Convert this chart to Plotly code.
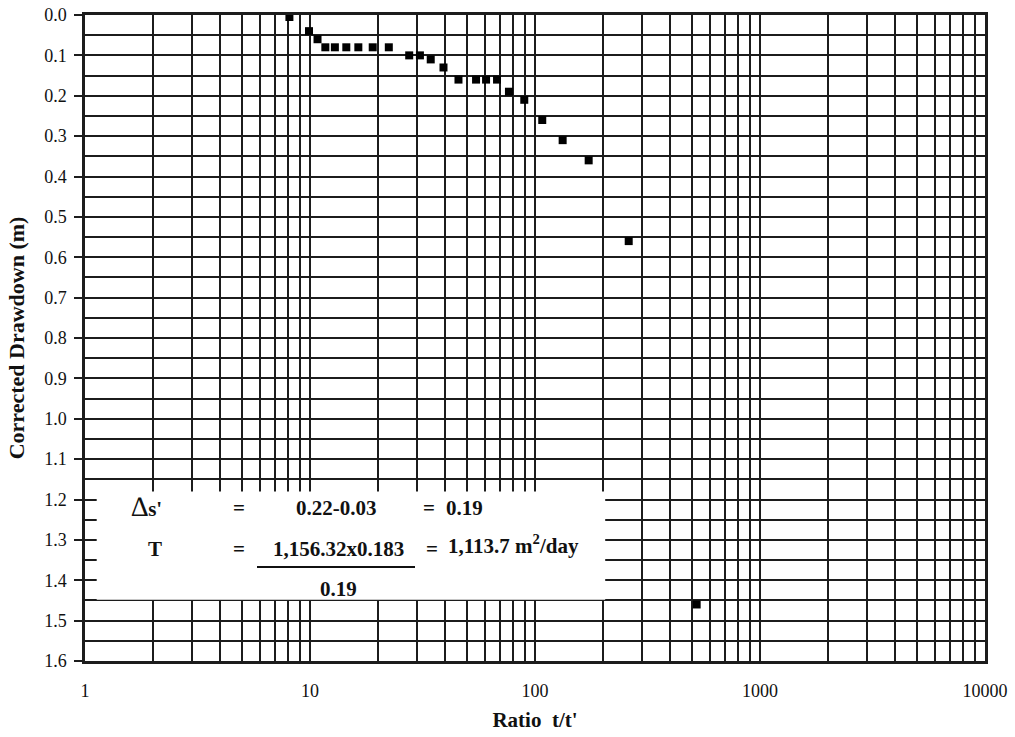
import plotly.graph_objects as go

# ---- data ----
ratio = [8.1, 9.9, 10.8, 11.7, 12.9, 14.5, 16.4, 19.0, 22.4, 27.6, 30.8, 34.4,
         39.2, 45.7, 54.7, 60.6, 67.8, 76.6, 89.6, 107.7, 132.7, 173.2, 260.9, 523]
drawdown = [0.005, 0.04, 0.06, 0.08, 0.08, 0.08, 0.08, 0.08, 0.08, 0.10, 0.10, 0.11,
            0.13, 0.16, 0.16, 0.16, 0.16, 0.19, 0.21, 0.26, 0.31, 0.36, 0.56, 1.46]

x_decades = [1, 10, 100, 1000, 10000]
x_ticktext = ["1", "10", "100", "1000", "10000"]
x_minor = [m * d for d in [1, 10, 100, 1000] for m in range(2, 10)]

y_major = [round(i * 0.1, 2) for i in range(17)]
y_ticktext = [f"{v:.1f}" for v in y_major]
y_minor = [round(0.05 + i * 0.1, 2) for i in range(16)]

FONT = "Liberation Serif, Times New Roman, serif"
LINE = "#1c1c1c"

fig = go.Figure()
fig.add_trace(go.Scatter(
    x=ratio, y=drawdown, mode="markers",
    marker=dict(symbol="square", size=8, color="black"),
    showlegend=False, cliponaxis=False,
))

fig.update_layout(
    width=1015, height=737,
    margin=dict(l=85, r=30, t=15, b=76, autoexpand=False),
    paper_bgcolor="white", plot_bgcolor="white",
    font=dict(family=FONT, size=18, color="#111"),
)

fig.update_xaxes(
    type="log", range=[0, 4],
    tickvals=x_decades, ticktext=x_ticktext, ticks="",
    ticklabelstandoff=12,
    showgrid=True, gridcolor=LINE, gridwidth=1.5,
    minor=dict(tickvals=x_minor, showgrid=True, gridcolor=LINE, gridwidth=1.5, ticks=""),
    showline=True, linecolor=LINE, linewidth=2.5, mirror=True,
    zeroline=False,
    title=dict(text="<b>Ratio  t/t'</b>", font=dict(size=21), standoff=12),
)

fig.update_yaxes(
    range=[1.6, 0],
    tickvals=y_major, ticktext=y_ticktext,
    ticks="outside", ticklen=8, tickwidth=1.5, tickcolor=LINE,
    ticklabelstandoff=4,
    showgrid=True, gridcolor=LINE, gridwidth=1.5,
    minor=dict(tickvals=y_minor, showgrid=True, gridcolor=LINE, gridwidth=1.5, ticks=""),
    showline=True, linecolor=LINE, linewidth=2.5, mirror=True,
    zeroline=False,
    title=dict(text="<b>Corrected Drawdown (m)</b>", font=dict(size=22), standoff=14),
)

# white box for the calculation text
fig.add_shape(type="rect", xref="paper", yref="y",
              x0=0.013, x1=0.578, y0=1.18, y1=1.448,
              fillcolor="white", line=dict(width=0), layer="above")

# fraction bar
fig.add_shape(type="line", xref="paper", yref="paper",
              x0=(257 - 85) / 900, x1=(415 - 85) / 900,
              y0=(661 - 567) / 646, y1=(661 - 567) / 646,
              line=dict(color="#111", width=2), layer="above")


def px(x):
    return (x - 85) / 900


def py(y):
    return (661 - y) / 646


txt = dict(xref="paper", yref="paper", showarrow=False,
           font=dict(family=FONT, size=21, color="#111"))
notes = [
    ("<span style='font-size:28px'>∆</span><b>s'</b>", 146, 506, "center"),
    ("<b>=</b>", 239, 508, "center"),
    ("<b>0.22-0.03</b>", 336, 508, "center"),
    ("<b>=</b>", 429, 508, "center"),
    ("<b>0.19</b>", 444, 508, "left"),
    ("<b>T</b>", 155, 549, "center"),
    ("<b>=</b>", 239, 549, "center"),
    ("<b>1,156.32x0.183</b>", 338, 549, "center"),
    ("<b>=</b>", 432, 549, "center"),
    ("<b>1,113.7 m<sup>2</sup>/day</b>", 446, 544, "left"),
    ("<b>0.19</b>", 338, 589, "center"),
]
for t, x, y, anc in notes:
    fig.add_annotation(text=t, x=px(x), y=py(y), xanchor=anc, yanchor="middle", **txt)

fig.write_html("out.html", config={"displayModeBar": False},
               post_script="document.body.style.margin='0';document.body.style.overflow='hidden';")
